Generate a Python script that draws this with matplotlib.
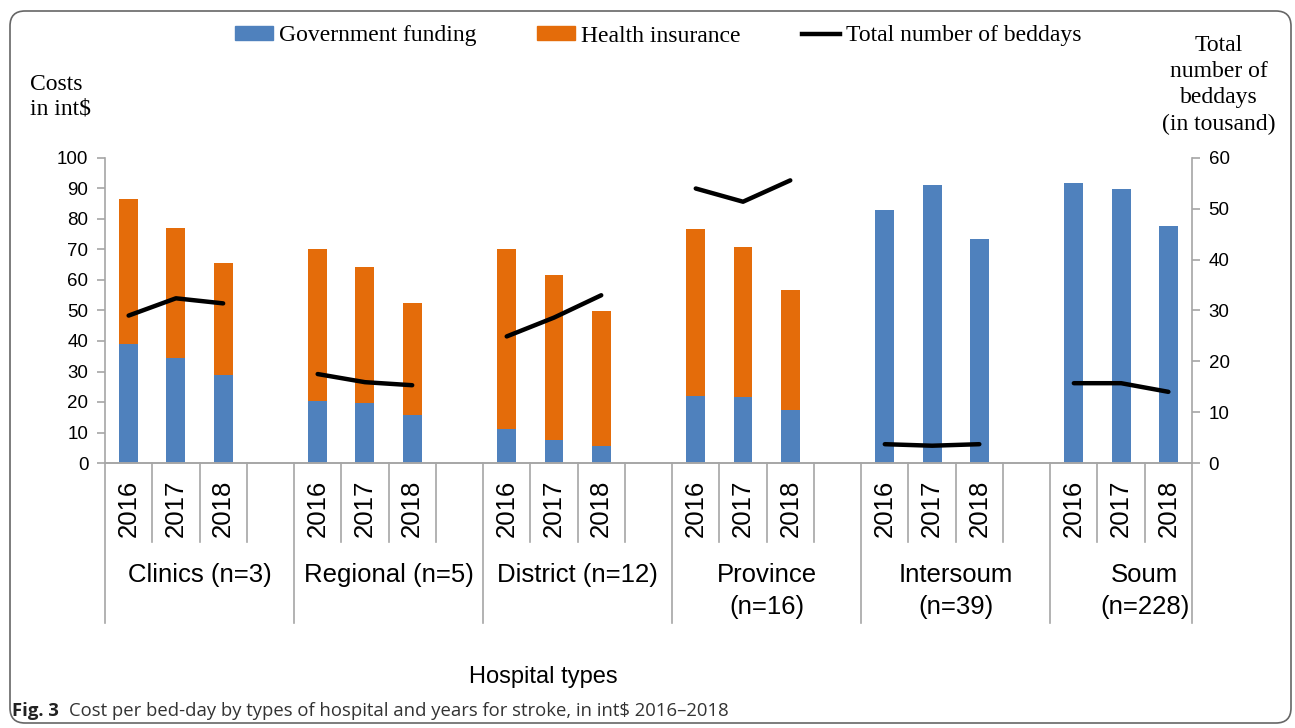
import matplotlib
matplotlib.use("Agg")
import matplotlib.pyplot as plt
from matplotlib import transforms
from matplotlib.patches import Patch, FancyBboxPatch
from matplotlib.lines import Line2D
import numpy as np

groups = ["Clinics (n=3)", "Regional (n=5)", "District (n=12)",
          "Province\n(n=16)", "Intersoum\n(n=39)", "Soum\n(n=228)"]
years = ["2016", "2017", "2018"]
gov = [38.9, 34.3, 28.9,
       20.4, 19.8, 15.9,
       11.1, 7.7, 5.6,
       22.0, 21.7, 17.4,
       83.0, 91.1, 73.3,
       91.8, 89.7, 77.7]
total_cost = [86.6, 76.9, 65.6,
              70.3, 64.1, 52.3,
              70.3, 61.8, 49.9,
              76.8, 70.9, 56.7,
              83.0, 91.1, 73.3,
              91.8, 89.7, 77.7]
insurance = [t - g for t, g in zip(total_cost, gov)]
beddays = [29.0, 32.4, 31.4,
           17.5, 15.9, 15.3,
           24.9, 28.6, 33.0,
           54.0, 51.4, 55.6,
           3.7, 3.4, 3.7,
           15.7, 15.7, 14.0]

BLUE = "#4F81BD"
ORANGE = "#E46C0A"
GRID = "#A6A6A6"
SERIF = "Liberation Serif"
SANS = "Liberation Sans"

W, H = 1295, 728
fig = plt.figure(figsize=(W / 100, H / 100), dpi=100)


def fy(p):
    return 1 - p / H


ax = fig.add_axes([105 / W, fy(463), (1192 - 105) / W, (463 - 158) / H])
ax2 = ax.twinx()

ng = len(groups)
ny = len(years)
slot = 4
xpos = np.array([g * slot + j for g in range(ng) for j in range(ny)])
nslots = ng * slot - 1

ax.bar(xpos, gov, width=0.4, color=BLUE, zorder=2)
ax.bar(xpos, insurance, width=0.4, bottom=gov, color=ORANGE, zorder=2)

for g in range(ng):
    sl = slice(g * ny, (g + 1) * ny)
    ax2.plot(xpos[sl], beddays[sl], color="black", lw=3.2,
             solid_capstyle="round", solid_joinstyle="round")

ax.set_xlim(-0.5, nslots - 0.5)
ax.set_ylim(0, 100)
ax2.set_ylim(0, 60)
ax.set_yticks(np.arange(0, 101, 10))
ax2.set_yticks(np.arange(0, 61, 10))
ax.set_xticks([])

for a in (ax, ax2):
    a.spines["top"].set_visible(False)
    for s in ("left", "right", "bottom"):
        a.spines[s].set_color(GRID)
        a.spines[s].set_linewidth(1.2)
    a.tick_params(axis="y", length=6, width=1.2, color=GRID, labelsize=13.5,
                  pad=6)
ax2.spines["left"].set_visible(False)
ax.spines["right"].set_visible(False)
for lab in ax.get_yticklabels() + ax2.get_yticklabels():
    lab.set_fontfamily(SANS)

# multi-level category axis
bt = transforms.blended_transform_factory(ax.transData, fig.transFigure)
for k in range(nslots + 1):
    xb = k - 0.5
    bottom = 623 if (k % slot == 0 or k == nslots) else 542
    ax.plot([xb, xb], [fy(463), fy(bottom)], transform=bt, color=GRID,
            lw=1.2, clip_on=False)
for i, x in enumerate(xpos):
    ax.text(x, fy(480), years[i % ny], transform=bt, rotation=90,
            ha="center", va="top", fontsize=18.5, family=SANS)
for g, name in enumerate(groups):
    ax.text(g * slot + 1.5, fy(563), name, transform=bt, ha="center",
            va="top", fontsize=18.5, family=SANS, linespacing=1.4)

# axis titles
fig.text(30 / W, fy(97), "Costs\nin int$", family=SERIF, fontsize=17,
         ha="left", va="center", linespacing=1.25)
fig.text(1219 / W, fy(85), "Total\nnumber of\nbeddays\n(in tousand)",
         family=SERIF, fontsize=17, ha="center", va="center",
         linespacing=1.32)
fig.text(543 / W, fy(677), "Hospital types", family=SANS, fontsize=17,
         ha="center", va="center")

# legend
handles = [Patch(color=BLUE), Patch(color=ORANGE),
           Line2D([0], [0], color="black", lw=3.2)]
labels = ["Government funding", "Health insurance", "Total number of beddays"]
fig.legend(handles, labels, loc="center", bbox_to_anchor=(658 / W, fy(36)),
           ncol=3, frameon=False, prop={"family": SERIF, "size": 17},
           handlelength=1.6, handleheight=0.5, handletextpad=0.25,
           columnspacing=2.6, borderpad=0)

# caption
t1 = fig.text(12 / W, fy(711), "Fig. 3", family="Open Sans", weight="bold",
              fontsize=13.3, ha="left", va="center", color="#222222")
cap = plt.annotate("Cost per bed-day by types of hospital and years for stroke, in int$ 2016\u20132018",
                   xy=(1, 0.5), xycoords=t1, xytext=(7, 0),
                   textcoords="offset points", va="center", ha="left",
                   family="Open Sans", fontsize=13.3, color="#333333",
                   annotation_clip=False)

# border
border = FancyBboxPatch((0.10, 0.05), 12.81, 7.12,
                        boxstyle="round,pad=0,rounding_size=0.15",
                        transform=fig.dpi_scale_trans, fill=False,
                        edgecolor="#666666", lw=1.2)
fig.patches.append(border)

fig.savefig("out.png", dpi=100)
